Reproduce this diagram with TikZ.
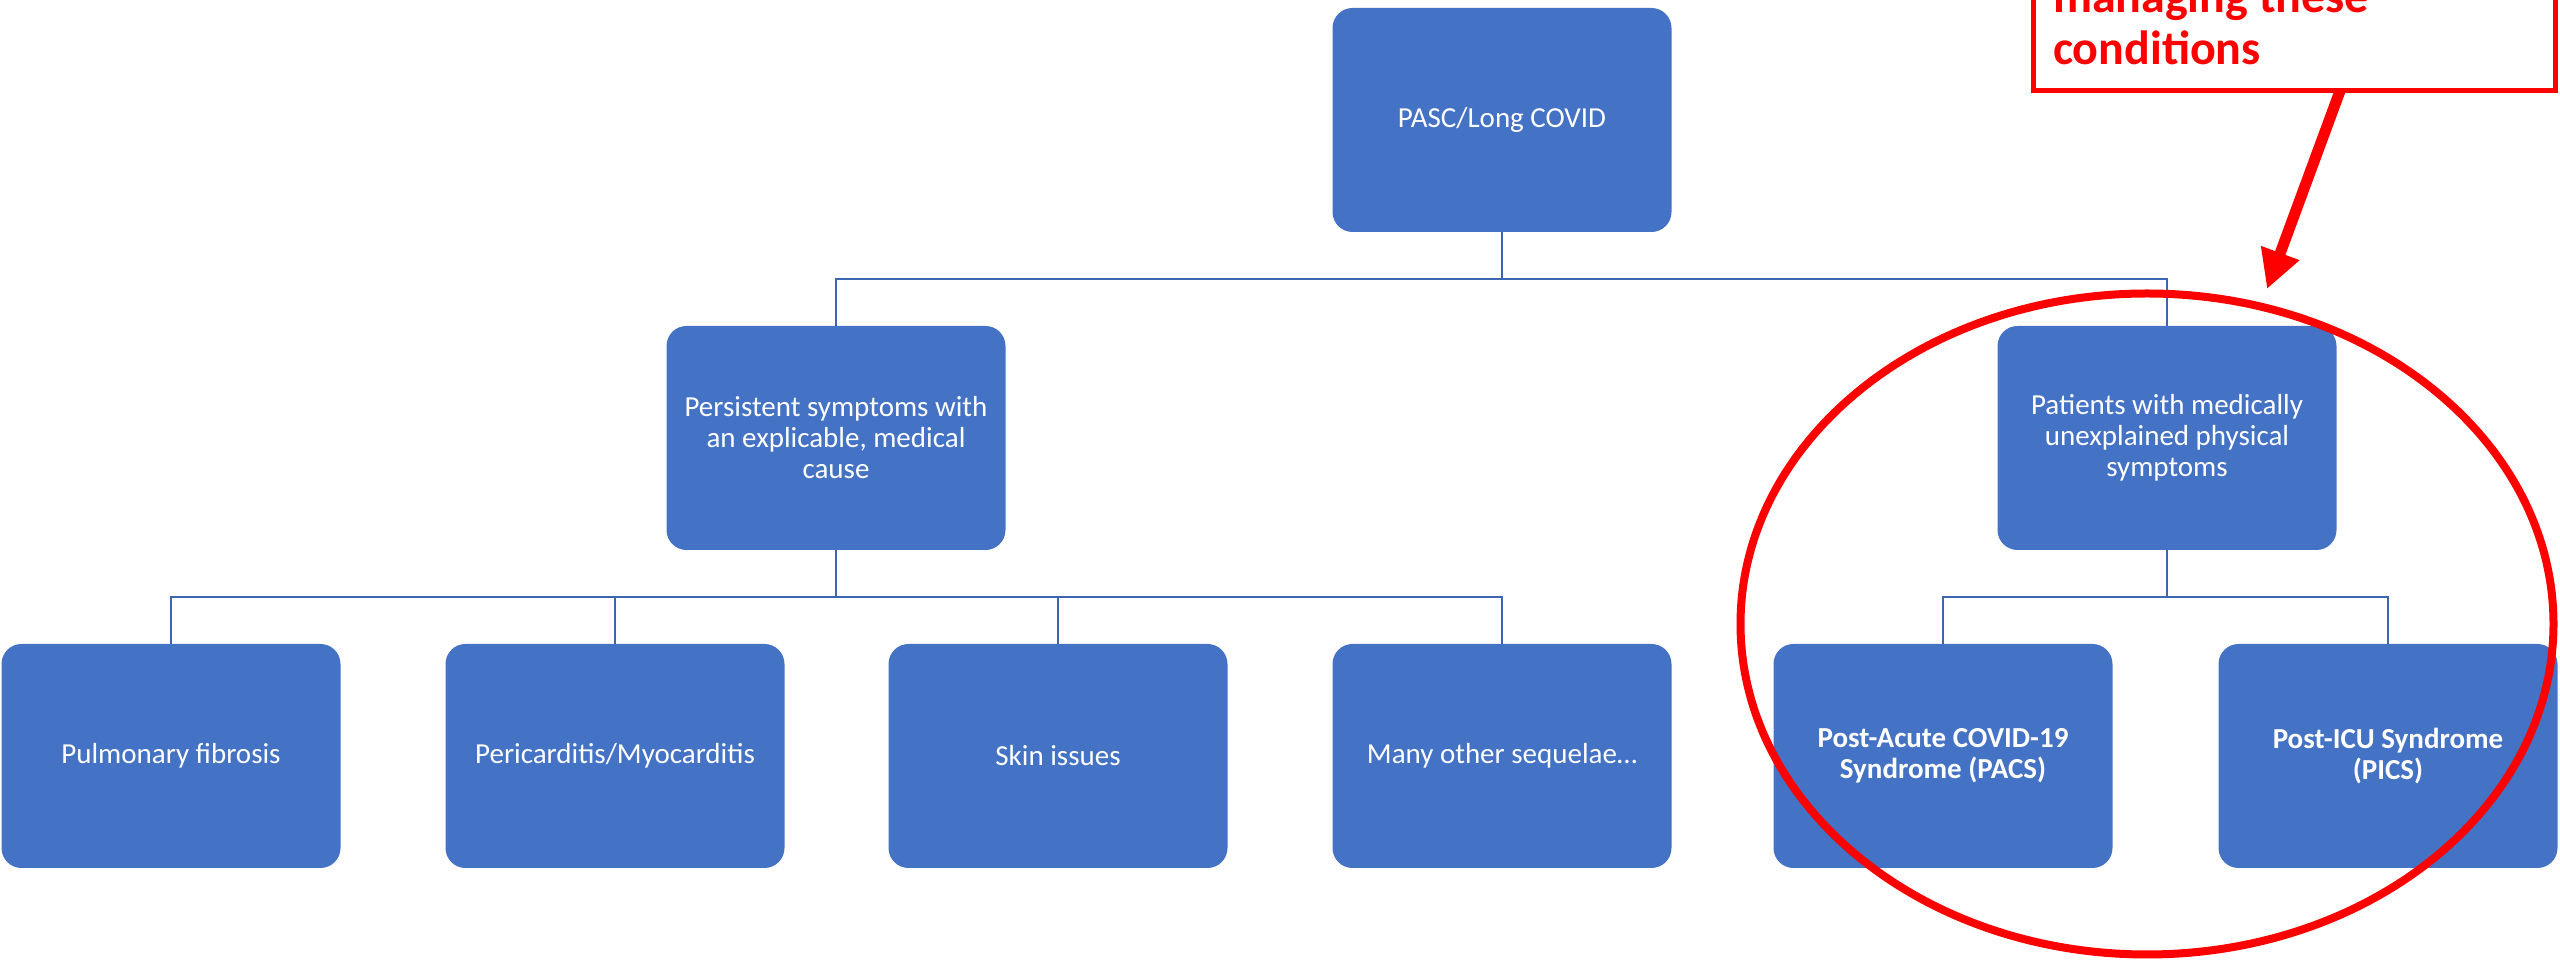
\documentclass[tikz,border=0pt]{standalone}
\usepackage{fontspec}
\setmainfont{Carlito}
\usetikzlibrary{arrows.meta,shapes.geometric}
\definecolor{boxblue}{HTML}{4472C4}
\definecolor{linkblue}{HTML}{3C66B2}
\definecolor{alertred}{HTML}{FF0000}
\tikzset{
  sbox/.style={fill=boxblue, rounded corners=6pt, minimum width=101.7pt,
    minimum height=67.2pt, inner sep=0pt, outer sep=0pt, text=white,
    align=center, font=\fontsize{8.7}{9.3}\selectfont},
  boldbox/.style={sbox, font=\fontsize{8.7}{9.3}\selectfont\bfseries},
  conn/.style={draw=linkblue, line width=0.75pt},
  notebox/.style={draw=alertred, line width=1.5pt, fill=white, inner sep=0pt,
    outer sep=0pt, minimum width=156.6pt, minimum height=57.3pt},
  notetext/.style={text=alertred, inner sep=0pt, outer sep=0pt,
    font=\fontsize{14.4}{15.6}\selectfont\bfseries},
  ring/.style={ellipse, draw=alertred, line width=2.4pt, inner sep=0pt,
    minimum width=243.9pt, minimum height=198.3pt},
  pointer/.style={draw=alertred, line width=3.3pt,
    -{Triangle[length=11.5pt,width=11.5pt]}}
}
\begin{document}
\begin{tikzpicture}[x=0.3pt, y=-0.3pt]
  \useasboundingbox (0,0) rectangle (2560,962);
  \clip (0,0) rectangle (2560,962);

  % tree of boxes
  \node[sbox] (top)  at (1502,120) {PASC/Long COVID};
  \node[sbox] (pers) at (836,438) {Persistent symptoms with\\an explicable, medical\\cause};
  \node[sbox] (pat)  at (2167,438) {Patients with medically\\unexplained physical\\symptoms};
  \node[sbox] (pulm) at (171,756)  {Pulmonary fibrosis};
  \node[sbox] (peri) at (615,756)  {Pericarditis/Myocarditis};
  \node[sbox] (skin) at (1058,756) {Skin issues};
  \node[sbox] (many) at (1502,756) {Many other sequelae…};
  \node[boldbox] (pacs) at (1943,756) {Post-Acute COVID-19\\Syndrome (PACS)};
  \node[boldbox] (pics) at (2388,756) {Post-ICU Syndrome\\(PICS)};

  % elbow connectors
  \draw[conn] (top.south) -- ++(0,47) -| (pers.north);
  \draw[conn] (top.south) -- ++(0,47) -| (pat.north);
  \foreach \c in {pulm,peri,skin,many}
    \draw[conn] (pers.south) -- ++(0,47) -| (\c.north);
  \foreach \c in {pacs,pics}
    \draw[conn] (pat.south) -- ++(0,47) -| (\c.north);

  % highlight ring round the right branch
  \node[ring] (hl) at (2147,624) {};

  % callout box with pointer
  \node[notebox, anchor=south west] (note) at (2033,91) {};
  \node[notetext, anchor=base west] (noteA) at (2053,13) {managing these};
  \node[notetext, anchor=base west] (noteB) at (2053,65) {conditions};
  \coordinate (tip) at (2267,289);
  \draw[pointer] ([xshift=92.1pt]note.south west) -- (tip);
\end{tikzpicture}
\end{document}
